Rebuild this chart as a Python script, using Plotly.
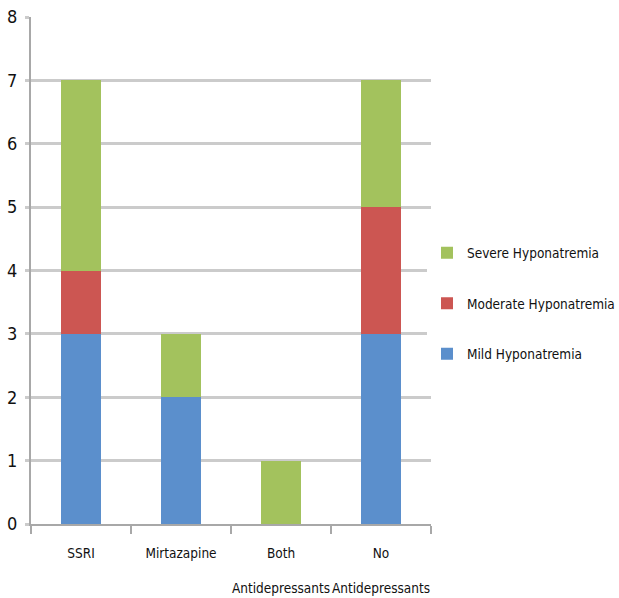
import plotly.graph_objects as go

# Patients by antidepressant group and hyponatremia severity
groups = ["SSRI", "Mirtazapine", "Both Antidepressants", "No Antidepressants"]
mild = [3, 2, 0, 3]
moderate = [1, 0, 0, 2]
severe = [3, 1, 1, 2]

series = [
    ("Mild Hyponatremia", mild, "#5B8FCC", 3),
    ("Moderate Hyponatremia", moderate, "#CC5652", 2),
    ("Severe Hyponatremia", severe, "#A3C25D", 1),
]

fig = go.Figure()
for name, vals, color, rank in series:
    fig.add_trace(go.Bar(
        x=groups, y=vals, name=name, legendgroup=name, legendrank=rank,
        marker=dict(color=color, line=dict(width=0)),
    ))

FONT = "DejaVu Sans Condensed, Liberation Sans, sans-serif"


def tick_label(text):
    # two-word names go on a first and third line
    return "<br><br>".join(text.split(" ", 1))


fig.update_layout(
    barmode="stack",
    bargap=0.6,
    width=619, height=598,
    margin=dict(l=31, r=188, t=17, b=74, autoexpand=False),
    paper_bgcolor="white",
    plot_bgcolor="white",
    font=dict(family=FONT, size=14, color="#111111"),
    showlegend=True,
    legend=dict(
        traceorder="grouped",
        xref="container", x=427 / 619, xanchor="left",
        y=0.435, yanchor="middle",
        font=dict(family=FONT, size=13.5, color="#111111"),
        itemwidth=30,
        tracegroupgap=30,
    ),
    xaxis=dict(
        type="category",
        tickmode="array",
        tickvals=groups,
        ticktext=[tick_label(g) for g in groups],
        tickson="boundaries",
        ticks="outside",
        ticklen=8,
        tickwidth=2,
        tickcolor="#a8a8a8",
        showline=True,
        linecolor="#a8a8a8",
        linewidth=2,
        showgrid=False,
        tickangle=0,
        tickfont=dict(family=FONT, size=13.5, color="#111111"),
        ticklabelstandoff=16,
    ),
    yaxis=dict(
        range=[0, 8],
        dtick=1,
        showgrid=True,
        gridcolor="#cbcbcb",
        gridwidth=3,
        zeroline=False,
        showline=True,
        linecolor="#a8a8a8",
        linewidth=2,
        ticks="outside",
        ticklen=4,
        tickwidth=3,
        tickcolor="#cbcbcb",
        tickfont=dict(family=FONT, size=18, color="#111111"),
        ticklabelstandoff=4,
    ),
)

fig.write_html("out.html")
